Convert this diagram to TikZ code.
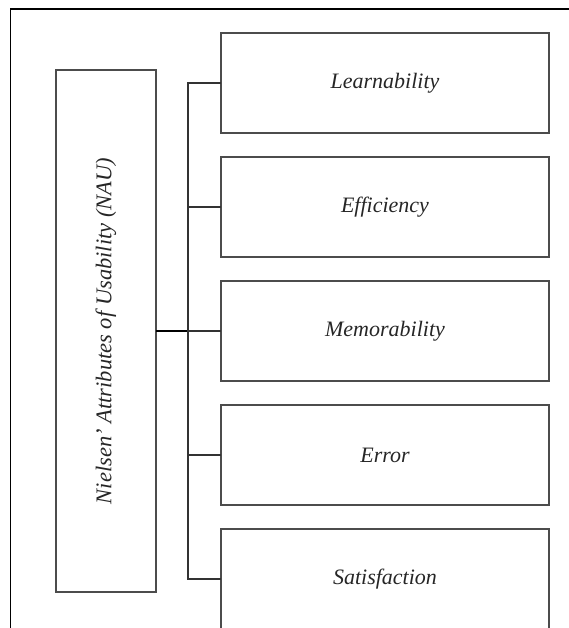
\documentclass[tikz,border=0pt]{standalone}
\usepackage{fontspec}
\setmainfont{Liberation Serif}
\usetikzlibrary{positioning}

\begin{document}
\begin{tikzpicture}[
    x=1pt, y=1pt,
    node distance=24pt,
    attrbox/.style={rectangle, draw=black!70, line width=1.4pt, minimum width=328pt, minimum height=100pt, outer sep=0pt, inner sep=0pt, font=\fontsize{22}{26}\selectfont\itshape, text=black!85},
    naubox/.style={rectangle, draw=black!70, line width=1.4pt, minimum width=100pt, minimum height=522pt, outer sep=0pt},
    branch/.style={draw=black!80, line width=1.2pt},
  ]
  \useasboundingbox (0,0) rectangle (569,-628);
  \clip (0,0) rectangle (569,-628);

  % outer frame
  \draw[line width=1.5pt] (10.5,-9) rectangle (600,-660);

  % NAU box
  \node[naubox] (nau) at (106,-331) {};
  \node[rotate=90, font=\fontsize{22.5}{27}\selectfont\itshape, text=black!85] (naulabel) at (nau.center) {Nielsen' Attributes of Usability (NAU)};

  % Attributes
  \node[attrbox] (learn) at (385,-83) {Learnability};
  \node[attrbox, below=of learn] (eff) {Efficiency};
  \node[attrbox, below=of eff] (mem) {Memorability};
  \node[attrbox, below=of mem] (err) {Error};
  \node[attrbox, below=of err] (sat) {Satisfaction};

  % Connectors
  \coordinate (jn) at (188,-331);
  \draw[line width=1.8pt] (nau.east) -- (jn);
  \draw[branch] (jn) |- (learn.west);
  \draw[branch] (jn) |- (eff.west);
  \draw[branch] (jn) -- (mem.west);
  \draw[branch] (jn) |- (err.west);
  \draw[branch] (jn) |- (sat.west);
\end{tikzpicture}
\end{document}
